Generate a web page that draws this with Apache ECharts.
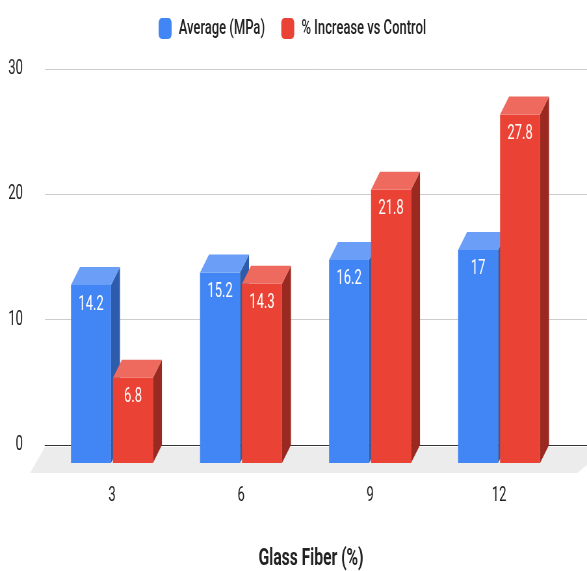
<!DOCTYPE html>
<html>
<head>
<meta charset="utf-8">
<script src="https://cdn.jsdelivr.net/npm/echarts@6/dist/echarts.min.js"></script>
<style>
  html, body { margin: 0; padding: 0; overflow: hidden; background: #fff; }
  /* The chart is laid out on a wider canvas and condensed horizontally,
     which gives the tall, narrow lettering of the original chart style. */
  #chart { width: 903px; height: 571px; transform: scaleX(0.65006); transform-origin: 0 0; }
</style>
</head>
<body>
<div id="chart"></div>
<script>
const categories = ['3', '6', '9', '12'];
const averageMPa = [14.2, 15.2, 16.2, 17];
const increasePct = [6.8, 14.3, 21.8, 27.8];
const yMin = 0, yMax = 30, yStep = 10;

const seriesNames = ['Average (MPa)', '% Increase vs Control'];
const palettes = [
  { front: '#4285f4', top: '#6b9ef6', side: '#2c5cab' },
  { front: '#ea4335', top: '#ee6a5e', side: '#9a2a21' }
];

// 3D extrusion of each bar (in the pre-condensed layout space)
const DEPTH_X = 13.8;
const DEPTH_Y = 18;
const FONT = 'Roboto, "Liberation Sans", sans-serif';

function barRenderer(side, palette) {
  return function (params, api) {
    const cat = api.value(0);
    const val = api.value(1);
    const top = api.coord([cat, val]);
    const base = api.coord([cat, 0]);
    const band = api.size([1, 0])[0];
    const w = band * 0.31;
    const gap = 1.5;
    const xl = side < 0 ? top[0] - gap - w : top[0] + gap;
    const xr = xl + w;
    const yt = top[1] + DEPTH_Y;
    const yb = base[1] + DEPTH_Y;
    return {
      type: 'group',
      children: [
        { type: 'rect', shape: { x: xl, y: yt, width: w, height: yb - yt },
          style: { fill: palette.front } },
        { type: 'polygon', shape: { points: [[xr, yt], [xr + DEPTH_X, yt - DEPTH_Y], [xr + DEPTH_X, yb - DEPTH_Y], [xr, yb]] },
          style: { fill: palette.side } },
        { type: 'polygon', shape: { points: [[xl, yt], [xr, yt], [xr + DEPTH_X, yt - DEPTH_Y], [xl + DEPTH_X, yt - DEPTH_Y]] },
          style: { fill: palette.top } },
        { type: 'text', x: (xl + xr) / 2, y: yt + 19.5,
          style: { text: String(val), fill: '#ffffff', font: '20px ' + FONT, align: 'center', verticalAlign: 'middle' } }
      ]
    };
  };
}

// grey floor plane under the bars
function floorRenderer(params, api) {
  const cs = params.coordSys;
  const y0 = api.coord([0, 0])[1];
  const slant = 23;
  return {
    type: 'polygon',
    silent: true,
    shape: { points: [
      [cs.x, y0 + 2], [cs.x + cs.width + slant + 10, y0 + 2],
      [cs.x + cs.width - 15, y0 + 28], [cs.x - slant, y0 + 28]
    ] },
    style: { fill: '#ececec' }
  };
}

const chart = echarts.init(document.getElementById('chart'));
chart.setOption({
  backgroundColor: '#ffffff',
  animation: false,
  legend: {
    left: 239, top: 13,
    itemWidth: 20, itemHeight: 21, itemGap: 25,
    icon: 'roundRect',
    textStyle: { fontSize: 20, color: '#222', fontFamily: FONT, fontWeight: 500, padding: [0, 0, 0, 6] },
    data: seriesNames
  },
  grid: [
    { left: 69.2, right: 0, top: 69, bottom: 126, outerBoundsMode: 'none', containLabel: false },
    { left: 73, right: 36, top: 69, bottom: 126, outerBoundsMode: 'none', containLabel: false }
  ],
  xAxis: [
    { gridIndex: 0, type: 'value', min: 0, max: 1,
      axisLabel: { show: false }, axisTick: { show: false }, splitLine: { show: false },
      axisLine: { show: true, lineStyle: { color: '#333', width: 1 } } },
    { gridIndex: 1, type: 'category', data: categories,
      axisLine: { show: false }, axisTick: { show: false },
      axisLabel: { fontSize: 20, color: '#222', fontFamily: FONT, margin: 41 },
      name: 'Glass Fiber (%)', nameLocation: 'middle', nameGap: 102,
      nameTextStyle: { fontSize: 24, fontWeight: 'bold', color: '#222', fontFamily: FONT, padding: [0, 0, 0, 17] } }
  ],
  yAxis: [
    { gridIndex: 0, type: 'value', min: yMin, max: yMax, interval: yStep,
      axisLine: { show: false }, axisTick: { show: false },
      axisLabel: { fontSize: 20, color: '#222', fontFamily: FONT, margin: 34 },
      splitLine: { lineStyle: { color: '#cccccc', width: 1 } } },
    { gridIndex: 1, type: 'value', min: yMin, max: yMax, interval: yStep, show: false }
  ],
  series: [
    { type: 'custom', name: 'floor', xAxisIndex: 0, yAxisIndex: 0, z: 1,
      renderItem: floorRenderer, data: [[0, 0]], silent: true },
    { type: 'custom', name: seriesNames[0], xAxisIndex: 1, yAxisIndex: 1, z: 3,
      itemStyle: { color: palettes[0].front },
      renderItem: barRenderer(-1, palettes[0]),
      data: categories.map((c, i) => [i, averageMPa[i]]) },
    { type: 'custom', name: seriesNames[1], xAxisIndex: 1, yAxisIndex: 1, z: 3,
      itemStyle: { color: palettes[1].front },
      renderItem: barRenderer(1, palettes[1]),
      data: categories.map((c, i) => [i, increasePct[i]]) }
  ]
});
</script>
</body>
</html>
